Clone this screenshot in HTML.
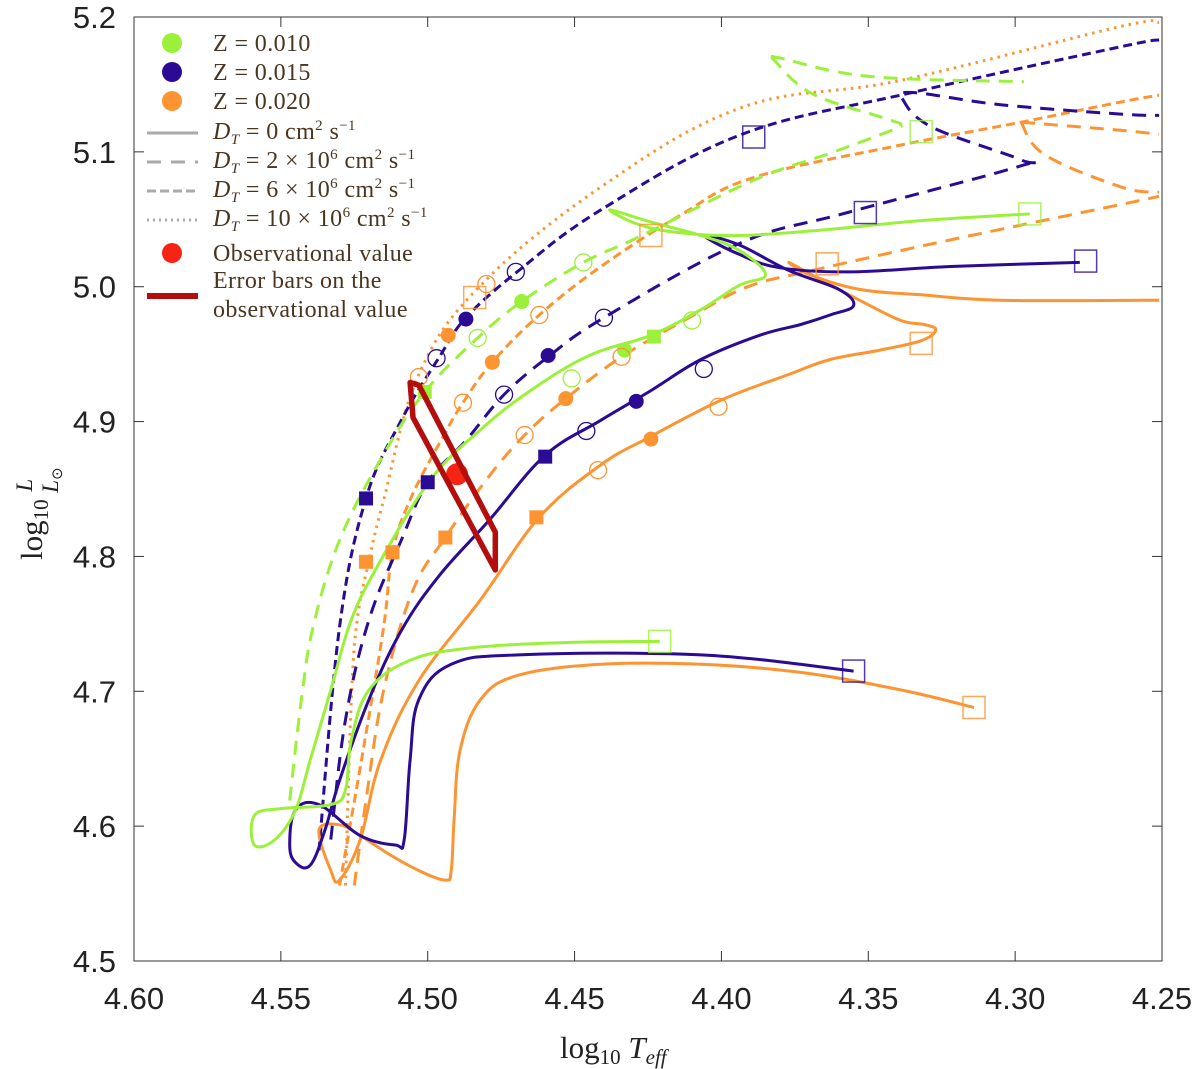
<!DOCTYPE html>
<html><head><meta charset="utf-8"><style>
html,body{margin:0;padding:0;background:#fff;}
svg{display:block;font-family:"Liberation Serif",serif;}
</style></head><body>
<svg id="chart" width="1200" height="1069" viewBox="0 0 1200 1069" xmlns="http://www.w3.org/2000/svg">
<rect x="0" y="0" width="1200" height="1069" fill="#fff"/>
<g id="curves"></g>
<g id="markers"></g>
<g id="axes"></g>
<g id="legend" fill="#4a3520" font-size="24" letter-spacing="0.4">
  <circle cx="172" cy="43" r="10" fill="#9bf13a"/>
  <text x="213" y="51">Z = 0.010</text>
  <circle cx="172" cy="72" r="10" fill="#2b0a94"/>
  <text x="213" y="80">Z = 0.015</text>
  <circle cx="172" cy="101" r="10" fill="#fd9432"/>
  <text x="213" y="109">Z = 0.020</text>
  <line x1="147" y1="133" x2="198" y2="133" stroke="#aaa" stroke-width="3"/>
  <text x="213" y="139"><tspan font-style="italic">D</tspan><tspan font-style="italic" font-size="15" dy="5">T</tspan><tspan dy="-5"> = 0 cm</tspan><tspan font-size="15" dy="-9">2</tspan><tspan dy="9"> s</tspan><tspan font-size="15" dy="-9">−1</tspan></text>
  <line x1="147" y1="162" x2="198" y2="162" stroke="#aaa" stroke-width="3" stroke-dasharray="14,10"/>
  <text x="213" y="168"><tspan font-style="italic">D</tspan><tspan font-style="italic" font-size="15" dy="5">T</tspan><tspan dy="-5"> = 2 × 10</tspan><tspan font-size="15" dy="-9">6</tspan><tspan dy="9"> cm</tspan><tspan font-size="15" dy="-9">2</tspan><tspan dy="9"> s</tspan><tspan font-size="15" dy="-9">−1</tspan></text>
  <line x1="147" y1="191" x2="198" y2="191" stroke="#aaa" stroke-width="3" stroke-dasharray="9,4"/>
  <text x="213" y="197"><tspan font-style="italic">D</tspan><tspan font-style="italic" font-size="15" dy="5">T</tspan><tspan dy="-5"> = 6 × 10</tspan><tspan font-size="15" dy="-9">6</tspan><tspan dy="9"> cm</tspan><tspan font-size="15" dy="-9">2</tspan><tspan dy="9"> s</tspan><tspan font-size="15" dy="-9">−1</tspan></text>
  <line x1="147" y1="220" x2="198" y2="220" stroke="#aaa" stroke-width="3" stroke-dasharray="2,4"/>
  <text x="213" y="226"><tspan font-style="italic">D</tspan><tspan font-style="italic" font-size="15" dy="5">T</tspan><tspan dy="-5"> = 10 × 10</tspan><tspan font-size="15" dy="-9">6</tspan><tspan dy="9"> cm</tspan><tspan font-size="15" dy="-9">2</tspan><tspan dy="9"> s</tspan><tspan font-size="15" dy="-9">−1</tspan></text>
  <circle cx="172" cy="253" r="10" fill="#f72415"/>
  <text x="213" y="261">Observational value</text>
  <line x1="147" y1="296" x2="198" y2="296" stroke="#b30d0d" stroke-width="6"/>
  <text x="213" y="288">Error bars on the</text>
  <text x="213" y="317">observational value</text>
</g>
</svg>
<script>
const xTicks = [4.60,4.55,4.50,4.45,4.40,4.35,4.30,4.25];
const yTicks = [4.5,4.6,4.7,4.8,4.9,5.0,5.1,5.2];
const greenSolid = [[4.421,4.737],[4.455,4.736],[4.486,4.732],[4.506,4.723],[4.520,4.701],[4.526,4.664],[4.528,4.627],[4.533,4.616],[4.550,4.613],[4.559,4.608],[4.559,4.586],[4.552,4.590],[4.545,4.612],[4.540,4.649],[4.533,4.701],[4.526,4.753],[4.516,4.797],[4.499,4.857],[4.482,4.894],[4.465,4.923],[4.445,4.949],[4.424,4.964],[4.407,4.983],[4.394,5.001],[4.385,5.009],[4.394,5.027],[4.407,5.038],[4.424,5.048],[4.438,5.057],[4.428,5.046],[4.414,5.040],[4.394,5.038],[4.366,5.042],[4.332,5.049],[4.295,5.054]];
const blueSolid = [[4.355,4.715],[4.407,4.727],[4.469,4.727],[4.492,4.720],[4.503,4.694],[4.506,4.649],[4.508,4.590],[4.511,4.586],[4.523,4.593],[4.537,4.616],[4.545,4.612],[4.547,4.586],[4.545,4.573],[4.540,4.571],[4.535,4.597],[4.530,4.634],[4.520,4.694],[4.509,4.745],[4.496,4.786],[4.479,4.827],[4.460,4.875],[4.441,4.901],[4.424,4.923],[4.407,4.946],[4.387,4.964],[4.373,4.972],[4.363,4.979],[4.355,4.986],[4.360,4.998],[4.377,5.012],[4.394,5.031],[4.406,5.038],[4.394,5.024],[4.380,5.014],[4.356,5.011],[4.322,5.015],[4.278,5.018]];
const orangeSolid = [[4.314,4.688],[4.339,4.701],[4.373,4.714],[4.407,4.720],[4.441,4.720],[4.469,4.712],[4.482,4.694],[4.489,4.656],[4.491,4.605],[4.492,4.567],[4.494,4.560],[4.503,4.567],[4.513,4.579],[4.523,4.593],[4.530,4.601],[4.537,4.597],[4.533,4.567],[4.530,4.560],[4.523,4.590],[4.516,4.649],[4.503,4.708],[4.482,4.768],[4.462,4.829],[4.441,4.868],[4.424,4.889],[4.400,4.916],[4.377,4.935],[4.363,4.946],[4.346,4.953],[4.332,4.960],[4.327,4.968],[4.331,4.972],[4.339,4.975],[4.353,4.990],[4.366,5.005],[4.377,5.018],[4.370,5.009],[4.353,4.998],[4.332,4.994],[4.305,4.990],[4.251,4.990]];
const greenDash2 = [[4.547,4.619],[4.543,4.694],[4.539,4.748],[4.530,4.812],[4.516,4.872],[4.501,4.922],[4.483,4.962],[4.468,4.989],[4.447,5.018],[4.428,5.037],[4.389,5.079],[4.363,5.099],[4.342,5.116],[4.339,5.120],[4.343,5.124],[4.369,5.143],[4.382,5.168],[4.381,5.170],[4.350,5.156],[4.297,5.152]];
const blueDash2 = [[4.533,4.590],[4.528,4.679],[4.520,4.753],[4.509,4.812],[4.500,4.855],[4.487,4.886],[4.474,4.920],[4.459,4.948],[4.440,4.977],[4.394,5.032],[4.357,5.055],[4.299,5.089],[4.298,5.094],[4.328,5.118],[4.338,5.138],[4.335,5.144],[4.305,5.135],[4.264,5.128],[4.251,5.127]];
const orangeDash2 = [[4.525,4.556],[4.521,4.619],[4.515,4.701],[4.505,4.775],[4.494,4.814],[4.480,4.857],[4.467,4.890],[4.453,4.917],[4.434,4.948],[4.411,4.977],[4.391,5.000],[4.369,5.012],[4.328,5.032],[4.264,5.061],[4.251,5.067]];
const blueDash6 = [[4.537,4.582],[4.530,4.748],[4.521,4.843],[4.509,4.901],[4.496,4.948],[4.487,4.977],[4.469,5.012],[4.441,5.057],[4.393,5.113],[4.335,5.144],[4.264,5.178],[4.251,5.183]];
const orangeDash6 = [[4.530,4.556],[4.522,4.656],[4.515,4.748],[4.512,4.803],[4.506,4.842],[4.496,4.884],[4.488,4.914],[4.478,4.944],[4.462,4.979],[4.441,5.015],[4.414,5.053],[4.389,5.081],[4.339,5.105],[4.298,5.122],[4.264,5.137],[4.251,5.142]];
const orangeBranchA = [[4.298,5.122],[4.290,5.098],[4.264,5.074],[4.251,5.070]];
const orangeBranchB = [[4.298,5.122],[4.264,5.116],[4.251,5.113]];
const orangeDot10 = [[4.528,4.556],[4.526,4.694],[4.524,4.753],[4.520,4.797],[4.515,4.842],[4.503,4.935],[4.482,5.001],[4.441,5.074],[4.393,5.133],[4.339,5.153],[4.264,5.193],[4.251,5.196]];
const openSquares = [[4.389,5.111,'b'],[4.332,5.115,'g'],[4.351,5.055,'b'],[4.295,5.054,'g'],[4.424,5.038,'o'],[4.364,5.017,'o'],[4.276,5.019,'b'],[4.484,4.992,'o'],[4.332,4.958,'o'],[4.421,4.737,'g'],[4.355,4.715,'b'],[4.314,4.688,'o']];
const filledCircles = [[4.487,4.976,'b'],[4.493,4.964,'o'],[4.468,4.989,'g'],[4.478,4.944,'o'],[4.459,4.949,'b'],[4.433,4.953,'g'],[4.453,4.917,'o'],[4.429,4.915,'b'],[4.424,4.887,'o']];
const filledSquares = [[4.501,4.922,'g'],[4.423,4.963,'g'],[4.521,4.843,'b'],[4.500,4.855,'b'],[4.460,4.874,'b'],[4.521,4.796,'o'],[4.512,4.803,'o'],[4.494,4.814,'o'],[4.463,4.829,'o']];
const openCircles = [[4.480,5.002,'o'],[4.470,5.011,'b'],[4.447,5.018,'g'],[4.497,4.947,'b'],[4.483,4.962,'g'],[4.462,4.979,'o'],[4.440,4.977,'b'],[4.503,4.933,'o'],[4.410,4.975,'g'],[4.488,4.914,'o'],[4.474,4.920,'b'],[4.451,4.932,'g'],[4.434,4.948,'o'],[4.406,4.939,'b'],[4.467,4.890,'o'],[4.446,4.893,'b'],[4.401,4.911,'o'],[4.442,4.864,'o']];
const obsValue = [4.490,4.861];
const errorBox = [[4.506,4.929],[4.505,4.903],[4.477,4.790],[4.477,4.818],[4.503,4.927]];

const X0=134,X1=1162,Y0=961,Y1=17;
const sx=t=>X0+(4.60-t)/(4.60-4.25)*(X1-X0);
const sy=l=>Y0-(l-4.5)/(0.7)*(Y0-Y1);
const C={g:'#9bf13a',b:'#2b0a94',o:'#fd9432'};
const NS='http://www.w3.org/2000/svg';
function mk(tag,attrs,parent){const e=document.createElementNS(NS,tag);for(const k in attrs)e.setAttribute(k,attrs[k]);parent.appendChild(e);return e;}
const curves=document.getElementById('curves');
function smoothPath(pts){
  const p=pts.map(d=>[sx(d[0]),sy(d[1])]);
  let s='M'+p[0][0].toFixed(1)+','+p[0][1].toFixed(1);
  const k=0.18;
  for(let i=0;i<p.length-1;i++){
    const p0=p[Math.max(0,i-1)],p1=p[i],p2=p[i+1],p3=p[Math.min(p.length-1,i+2)];
    const c1=[p1[0]+(p2[0]-p0[0])*k,p1[1]+(p2[1]-p0[1])*k];
    const c2=[p2[0]-(p3[0]-p1[0])*k,p2[1]-(p3[1]-p1[1])*k];
    s+=' C'+c1[0].toFixed(1)+','+c1[1].toFixed(1)+' '+c2[0].toFixed(1)+','+c2[1].toFixed(1)+' '+p2[0].toFixed(1)+','+p2[1].toFixed(1);
  }
  return s;
}
function line(data,color,dash,name){
  const p=mk('path',{d:smoothPath(data),fill:'none',stroke:color,'stroke-width':3,'stroke-linejoin':'round','stroke-dasharray':dash||'none'},curves);
  
  
}
line(orangeDot10,C.o,'2.5,5','track-z020-dt10');
line(orangeDash6,C.o,'9,5','track-z020-dt6');
line(orangeBranchA,C.o,'14,9','track-z020-branch-a');
line(orangeBranchB,C.o,'14,9','track-z020-branch-b');
line(blueDash6,C.b,'9,5','track-z015-dt6');
line(orangeDash2,C.o,'14,9','track-z020-dt2');
line(blueDash2,C.b,'14,9','track-z015-dt2');
line(greenDash2,C.g,'14,9','track-z010-dt2');
line(orangeSolid,C.o,null,'track-z020-dt0');
line(blueSolid,C.b,null,'track-z015-dt0');
line(greenSolid,C.g,null,'track-z010-dt0');

const mg=document.getElementById('markers');
openSquares.forEach(d=>{const e=mk('rect',{x:sx(d[0])-11,y:sy(d[1])-11,width:22,height:22,fill:'none',stroke:C[d[2]],'stroke-width':1.5,opacity:0.8},mg);
  
  });
filledCircles.forEach(d=>{const e=mk('circle',{cx:sx(d[0]),cy:sy(d[1]),r:7.5,fill:C[d[2]]},mg);
  
  });
filledSquares.forEach(d=>{const e=mk('rect',{x:sx(d[0])-7,y:sy(d[1])-7,width:14,height:14,fill:C[d[2]]},mg);
  
  });
openCircles.forEach(d=>{const e=mk('circle',{cx:sx(d[0]),cy:sy(d[1]),r:8.5,fill:'none',stroke:C[d[2]],'stroke-width':1.3},mg);
  
  });
const ob=mk('circle',{cx:sx(obsValue[0]),cy:sy(obsValue[1]),r:11,fill:'#f72415'},mg);


const eb=mk('polygon',{points:errorBox.map(d=>sx(d[0]).toFixed(1)+','+sy(d[1]).toFixed(1)).join(' '),fill:'none',stroke:'#b30d0d','stroke-width':5.5,'stroke-linejoin':'round'},mg);



const ax=document.getElementById('axes');
const fr=mk('rect',{x:X0,y:Y1,width:X1-X0,height:Y0-Y1,fill:'none',stroke:'#333','stroke-width':1},ax);


xTicks.forEach(t=>{const x=sx(t);
  mk('line',{x1:x,y1:Y0,x2:x,y2:Y0-10,stroke:'#333'},ax);mk('line',{x1:x,y1:Y1,x2:x,y2:Y1+10,stroke:'#333'},ax);
  const tx=mk('text',{x:x,y:1009,'text-anchor':'middle','font-size':31,'font-family':'Liberation Sans, sans-serif',fill:'#222'},ax);tx.textContent=t.toFixed(2);
  
  });
yTicks.forEach(l=>{const y=sy(l);
  mk('line',{x1:X0,y1:y,x2:X0+10,y2:y,stroke:'#333'},ax);mk('line',{x1:X1,y1:y,x2:X1-10,y2:y,stroke:'#333'},ax);
  const tx=mk('text',{x:116,y:y+11,'text-anchor':'end','font-size':31,'font-family':'Liberation Sans, sans-serif',fill:'#222'},ax);tx.textContent=l.toFixed(1);
  
  });
const xt=mk('text',{x:560,y:1058,'font-size':31,fill:'#222'},ax);
xt.innerHTML='log<tspan font-size="21" dy="6">10</tspan><tspan dy="-6"> </tspan><tspan font-style="italic">T</tspan><tspan font-style="italic" font-size="21" dy="6">eff</tspan>';


const yt=mk('text',{x:0,y:0,'font-size':31,fill:'#222',transform:'translate(42,560) rotate(-90)'},ax);
yt.innerHTML='log<tspan font-size="21" dy="6">10</tspan><tspan dy="-6"> </tspan><tspan font-style="italic" font-size="23" dy="-10">L</tspan><tspan font-style="italic" font-size="23" dx="-14" dy="26">L</tspan><tspan font-size="15" dy="4">⊙</tspan>';


</script>
</body></html>
